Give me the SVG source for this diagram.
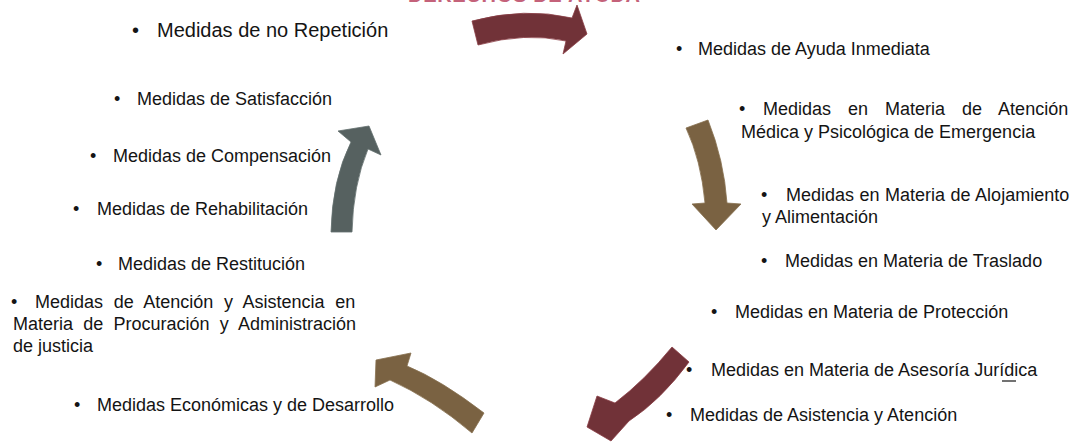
<svg xmlns="http://www.w3.org/2000/svg" width="1075" height="442" viewBox="0 0 1075 442">
<style>
.t{font-family:"Liberation Sans",Arial,sans-serif;font-size:18px;fill:#141414}
.big{font-size:20px}
.title{font-family:"Liberation Sans",Arial,sans-serif;font-size:20px;font-weight:bold;fill:#c4627a}
.maroon{fill:#713238;stroke:#8a3d45;stroke-width:0.8}
.brown{fill:#7a6242;stroke:#86704f;stroke-width:0.8}
.grey{fill:#566160;stroke:#63706e;stroke-width:0.8}
</style>
<rect width="1075" height="442" fill="#ffffff"/>
<text class="title" x="408" y="2" textLength="232">DERECHOS DE AYUDA</text>
<g id="connectors">
<path id="arrow-top" class="maroon" d="M472 21 Q525 7 572 18 L577 5 L587 34 L563 54 L566 41 Q525 32 478 45 Z"/>
<path id="arrow-right" class="brown" d="M686 128 L708 120 Q724 160 727 203 L741 204 L716 230 L692 204 L705 203 Q701 160 686 128 Z"/>
<path id="arrow-bottom-right" class="maroon" d="M672 347 L689 362 Q661 400 629 421 L611 441 L587 427 L597 396 L615 403 Q645 380 672 347 Z"/>
<path id="arrow-bottom-left" class="brown" d="M484 413 L472 433 Q432 399 390 380 L375 387 L376 360 L411 353 L407 366 Q441 380 484 413 Z"/>
<path id="arrow-left" class="grey" d="M331 232 Q332 180 351 142 L338 131 L369 126 L381 155 L368 149 Q353 185 352 232 Z"/>
</g>
<g id="n-no-repeticion"><text class="t big" y="37"><tspan x="132">•</tspan><tspan x="157">Medidas de no Repetición</tspan></text></g>
<g id="n-satisfaccion"><text class="t" y="105"><tspan x="114">•</tspan><tspan x="137">Medidas de Satisfacción</tspan></text></g>
<g id="n-compensacion"><text class="t" y="162"><tspan x="90">•</tspan><tspan x="113">Medidas de Compensación</tspan></text></g>
<g id="n-rehabilitacion"><text class="t" y="215"><tspan x="73">•</tspan><tspan x="97">Medidas de Rehabilitación</tspan></text></g>
<g id="n-restitucion"><text class="t" y="270"><tspan x="96">•</tspan><tspan x="118">Medidas de Restitución</tspan></text></g>
<g id="n-procuracion">
<text class="t" y="308"><tspan x="11">•</tspan><tspan x="35" word-spacing="5.6">Medidas de Atención y Asistencia en</tspan></text>
<text class="t" y="330" x="13" word-spacing="5.2">Materia de Procuración y Administración</text>
<text class="t" y="352" x="13">de justicia</text>
</g>
<g id="n-economicas"><text class="t" y="411"><tspan x="74">•</tspan><tspan x="97">Medidas Económicas y de Desarrollo</tspan></text></g>
<g id="n-ayuda-inmediata"><text class="t" y="55"><tspan x="676">•</tspan><tspan x="698">Medidas de Ayuda Inmediata</tspan></text></g>
<g id="n-atencion-medica">
<text class="t" y="115"><tspan x="739">•</tspan><tspan x="763" word-spacing="12">Medidas en Materia de Atención</tspan></text>
<text class="t" y="138" x="741">Médica y Psicológica de Emergencia</text>
</g>
<g id="n-alojamiento">
<text class="t" y="201"><tspan x="761">•</tspan><tspan x="786" word-spacing="0.5">Medidas en Materia de Alojamiento</tspan></text>
<text class="t" y="223" x="762">y Alimentación</text>
</g>
<g id="n-traslado"><text class="t" y="267"><tspan x="761">•</tspan><tspan x="785">Medidas en Materia de Traslado</tspan></text></g>
<g id="n-proteccion"><text class="t" y="318"><tspan x="711">•</tspan><tspan x="735">Medidas en Materia de Protección</tspan></text></g>
<g id="n-asesoria">
<text class="t" y="376"><tspan x="686">•</tspan><tspan x="711">Medidas en Materia de Asesoría Jurídica</tspan></text>
<line x1="1002" y1="381" x2="1016" y2="381" stroke="#141414" stroke-width="1.2"/>
</g>
<g id="n-asistencia"><text class="t" y="421"><tspan x="666">•</tspan><tspan x="690">Medidas de Asistencia y Atención</tspan></text></g>
</svg>
